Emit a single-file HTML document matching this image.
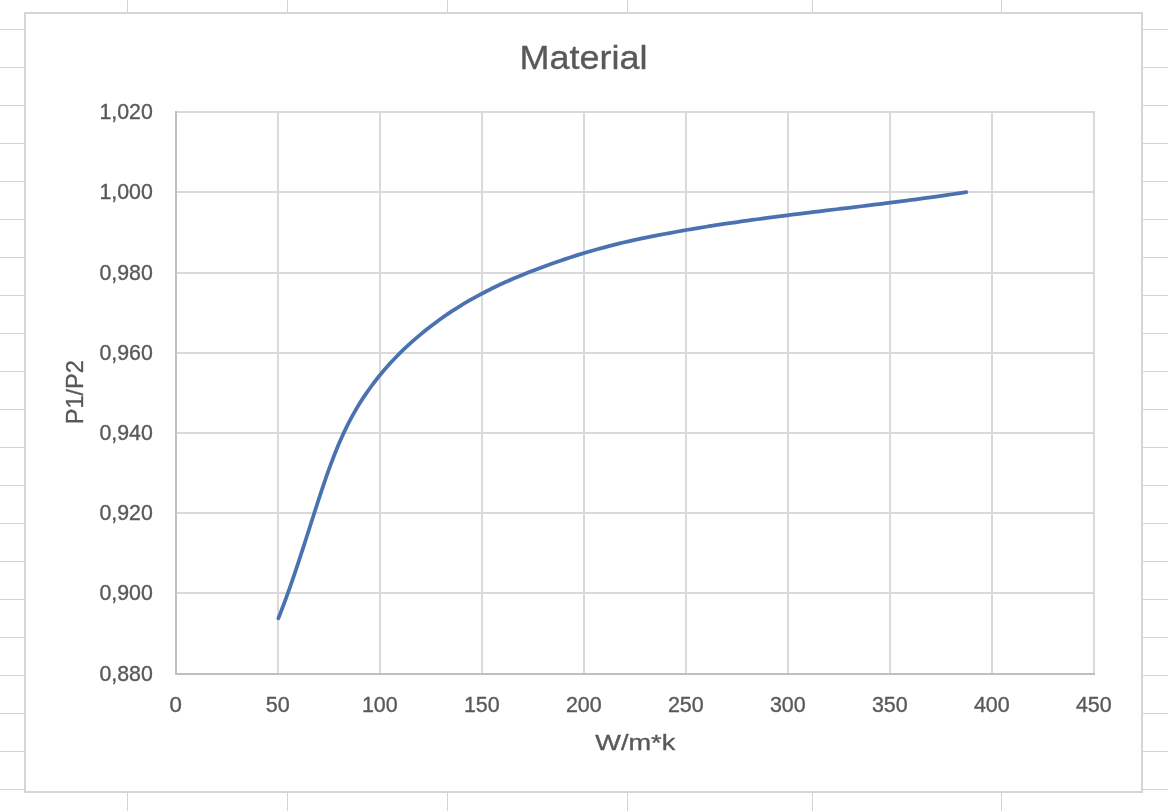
<!DOCTYPE html>
<html><head><meta charset="utf-8"><title>Material</title>
<style>html,body{margin:0;padding:0;background:#fff;overflow:hidden}svg{display:block;will-change:transform}text{font-family:"Liberation Sans",sans-serif;fill:#595959;stroke:#595959;stroke-width:0.35px;stroke-linejoin:round}</style></head><body>
<svg width="1168" height="811" viewBox="0 0 1168 811">
<rect width="1168" height="811" fill="#fff"/>
<g fill="#d4d4d4" shape-rendering="crispEdges">
<rect x="0" y="29" width="1168" height="1"/>
<rect x="0" y="67" width="1168" height="1"/>
<rect x="0" y="105" width="1168" height="1"/>
<rect x="0" y="143" width="1168" height="1"/>
<rect x="0" y="181" width="1168" height="1"/>
<rect x="0" y="219" width="1168" height="1"/>
<rect x="0" y="257" width="1168" height="1"/>
<rect x="0" y="295" width="1168" height="1"/>
<rect x="0" y="333" width="1168" height="1"/>
<rect x="0" y="371" width="1168" height="1"/>
<rect x="0" y="409" width="1168" height="1"/>
<rect x="0" y="447" width="1168" height="1"/>
<rect x="0" y="485" width="1168" height="1"/>
<rect x="0" y="523" width="1168" height="1"/>
<rect x="0" y="561" width="1168" height="1"/>
<rect x="0" y="599" width="1168" height="1"/>
<rect x="0" y="637" width="1168" height="1"/>
<rect x="0" y="675" width="1168" height="1"/>
<rect x="0" y="713" width="1168" height="1"/>
<rect x="0" y="751" width="1168" height="1"/>
<rect x="0" y="789" width="1168" height="1"/>
<rect x="127" y="0" width="1" height="811"/>
<rect x="287" y="0" width="1" height="811"/>
<rect x="447" y="0" width="1" height="811"/>
<rect x="627" y="0" width="1" height="811"/>
<rect x="812" y="0" width="1" height="811"/>
<rect x="1001" y="0" width="1" height="811"/>
</g>
<rect x="25" y="13" width="1117" height="779" fill="#fff" stroke="#d5d5d5" stroke-width="2" shape-rendering="crispEdges"/>
<g stroke="#d9d9d9" stroke-width="2" fill="none">
<line x1="278.00" y1="111.00" x2="278.00" y2="674.00"/>
<line x1="380.00" y1="111.00" x2="380.00" y2="674.00"/>
<line x1="482.00" y1="111.00" x2="482.00" y2="674.00"/>
<line x1="584.00" y1="111.00" x2="584.00" y2="674.00"/>
<line x1="686.00" y1="111.00" x2="686.00" y2="674.00"/>
<line x1="788.00" y1="111.00" x2="788.00" y2="674.00"/>
<line x1="890.00" y1="111.00" x2="890.00" y2="674.00"/>
<line x1="992.00" y1="111.00" x2="992.00" y2="674.00"/>
<line x1="1094.00" y1="111.00" x2="1094.00" y2="674.00"/>
<line x1="176.00" y1="112.00" x2="1095.00" y2="112.00"/>
<line x1="176.00" y1="192.00" x2="1095.00" y2="192.00"/>
<line x1="176.00" y1="273.00" x2="1095.00" y2="273.00"/>
<line x1="176.00" y1="353.00" x2="1095.00" y2="353.00"/>
<line x1="176.00" y1="433.00" x2="1095.00" y2="433.00"/>
<line x1="176.00" y1="513.00" x2="1095.00" y2="513.00"/>
<line x1="176.00" y1="593.00" x2="1095.00" y2="593.00"/>
</g>
<g stroke="#bfbfbf" stroke-width="2" fill="none">
<line x1="176.00" y1="111.00" x2="176.00" y2="675.00"/>
<line x1="175.00" y1="674.00" x2="1095.00" y2="674.00"/>
</g>
<path d="M278.39 618.30 C279.01 616.72 280.87 611.96 282.07 608.79 C283.28 605.63 284.46 602.46 285.62 599.30 C286.78 596.14 287.91 592.98 289.04 589.82 C290.16 586.66 291.26 583.50 292.35 580.35 C293.44 577.19 294.51 574.03 295.57 570.88 C296.63 567.72 297.68 564.57 298.72 561.41 C299.76 558.25 300.79 555.10 301.82 551.94 C302.85 548.78 303.86 545.62 304.88 542.46 C305.89 539.30 306.90 536.14 307.91 532.98 C308.93 529.81 309.93 526.65 310.95 523.48 C311.96 520.31 312.97 517.14 313.99 513.96 C315.01 510.79 316.04 507.61 317.07 504.43 C318.10 501.24 319.14 498.06 320.19 494.87 C321.25 491.68 322.31 488.48 323.39 485.29 C324.47 482.11 325.56 478.91 326.68 475.73 C327.80 472.55 328.93 469.37 330.10 466.20 C331.27 463.03 332.46 459.87 333.68 456.73 C334.91 453.59 336.16 450.46 337.46 447.34 C338.75 444.23 340.07 441.14 341.45 438.07 C342.82 435.00 344.23 431.94 345.69 428.92 C347.15 425.90 348.65 422.90 350.21 419.94 C351.77 416.97 353.38 414.04 355.04 411.14 C356.71 408.24 358.43 405.37 360.21 402.54 C361.99 399.71 363.82 396.92 365.70 394.16 C367.59 391.40 369.53 388.68 371.51 385.99 C373.50 383.30 375.53 380.65 377.62 378.04 C379.70 375.43 381.83 372.85 384.01 370.31 C386.19 367.77 388.41 365.27 390.67 362.81 C392.94 360.34 395.25 357.92 397.59 355.53 C399.94 353.14 402.33 350.79 404.75 348.48 C407.18 346.17 409.64 343.90 412.14 341.67 C414.64 339.43 417.17 337.24 419.74 335.09 C422.31 332.93 424.91 330.82 427.54 328.75 C430.17 326.67 432.84 324.64 435.53 322.65 C438.22 320.66 440.94 318.70 443.68 316.79 C446.42 314.88 449.20 313.01 451.99 311.18 C454.78 309.36 457.60 307.57 460.44 305.83 C463.28 304.08 466.14 302.38 469.02 300.72 C471.90 299.06 474.80 297.44 477.72 295.86 C480.64 294.27 483.58 292.73 486.54 291.22 C489.49 289.71 492.47 288.23 495.46 286.79 C498.45 285.35 501.46 283.95 504.48 282.57 C507.51 281.19 510.55 279.85 513.61 278.53 C516.66 277.21 519.73 275.93 522.82 274.67 C525.91 273.41 529.01 272.17 532.12 270.96 C535.23 269.75 538.36 268.57 541.50 267.40 C544.64 266.24 547.79 265.10 550.95 263.97 C554.12 262.85 557.29 261.75 560.47 260.66 C563.66 259.58 566.86 258.51 570.06 257.47 C573.26 256.42 576.48 255.39 579.70 254.39 C582.92 253.39 586.15 252.41 589.39 251.46 C592.63 250.51 595.88 249.59 599.13 248.69 C602.38 247.79 605.64 246.93 608.91 246.08 C612.17 245.24 615.44 244.43 618.72 243.64 C621.99 242.85 625.28 242.08 628.56 241.34 C631.84 240.59 635.13 239.87 638.42 239.17 C641.71 238.47 645.00 237.78 648.30 237.12 C651.59 236.45 654.89 235.80 658.19 235.16 C661.48 234.52 664.78 233.90 668.08 233.29 C671.38 232.68 674.68 232.08 677.98 231.49 C681.28 230.91 684.57 230.33 687.87 229.77 C691.17 229.20 694.47 228.65 697.78 228.10 C701.08 227.56 704.38 227.03 707.68 226.50 C710.98 225.98 714.28 225.46 717.58 224.96 C720.89 224.45 724.19 223.95 727.49 223.46 C730.79 222.97 734.10 222.49 737.40 222.02 C740.71 221.54 744.01 221.08 747.32 220.62 C750.62 220.16 753.93 219.70 757.23 219.25 C760.54 218.81 763.84 218.37 767.15 217.93 C770.46 217.49 773.77 217.06 777.07 216.63 C780.38 216.20 783.69 215.78 787.00 215.36 C790.31 214.94 793.62 214.53 796.93 214.11 C800.24 213.70 803.55 213.29 806.86 212.88 C810.17 212.48 813.48 212.07 816.80 211.67 C820.11 211.26 823.42 210.86 826.74 210.46 C830.05 210.06 833.36 209.66 836.68 209.26 C839.99 208.85 843.31 208.45 846.62 208.05 C849.94 207.65 853.26 207.25 856.57 206.85 C859.89 206.44 863.21 206.04 866.53 205.63 C869.85 205.23 873.17 204.82 876.49 204.41 C879.81 203.99 883.13 203.58 886.45 203.16 C889.77 202.74 893.09 202.32 896.42 201.90 C899.74 201.47 903.06 201.04 906.39 200.61 C909.71 200.17 913.04 199.73 916.36 199.29 C919.69 198.84 923.01 198.39 926.34 197.93 C929.67 197.48 933.00 197.01 936.32 196.54 C939.65 196.07 942.98 195.59 946.31 195.11 C949.64 194.62 952.98 194.13 956.31 193.62 C959.64 193.12 964.64 192.35 966.31 192.09" fill="none" stroke="#4a72b0" stroke-width="3.75" stroke-linecap="round" stroke-linejoin="round"/>
<text x="583.6" y="68.6" font-size="33.3" text-anchor="middle" textLength="128" lengthAdjust="spacingAndGlyphs">Material</text>
<text x="152.8" y="118.90" font-size="21.2" text-anchor="end" textLength="53.4" lengthAdjust="spacingAndGlyphs">1,020</text>
<text x="152.8" y="198.90" font-size="21.2" text-anchor="end" textLength="53.4" lengthAdjust="spacingAndGlyphs">1,000</text>
<text x="152.8" y="279.90" font-size="21.2" text-anchor="end" textLength="53.4" lengthAdjust="spacingAndGlyphs">0,980</text>
<text x="152.8" y="359.90" font-size="21.2" text-anchor="end" textLength="53.4" lengthAdjust="spacingAndGlyphs">0,960</text>
<text x="152.8" y="439.90" font-size="21.2" text-anchor="end" textLength="53.4" lengthAdjust="spacingAndGlyphs">0,940</text>
<text x="152.8" y="519.90" font-size="21.2" text-anchor="end" textLength="53.4" lengthAdjust="spacingAndGlyphs">0,920</text>
<text x="152.8" y="599.90" font-size="21.2" text-anchor="end" textLength="53.4" lengthAdjust="spacingAndGlyphs">0,900</text>
<text x="152.8" y="680.90" font-size="21.2" text-anchor="end" textLength="53.4" lengthAdjust="spacingAndGlyphs">0,880</text>
<text x="175.80" y="711.7" font-size="21.2" text-anchor="middle" textLength="12.4" lengthAdjust="spacingAndGlyphs">0</text>
<text x="277.80" y="711.7" font-size="21.2" text-anchor="middle" textLength="24.0" lengthAdjust="spacingAndGlyphs">50</text>
<text x="379.80" y="711.7" font-size="21.2" text-anchor="middle" textLength="35.8" lengthAdjust="spacingAndGlyphs">100</text>
<text x="481.80" y="711.7" font-size="21.2" text-anchor="middle" textLength="35.8" lengthAdjust="spacingAndGlyphs">150</text>
<text x="583.80" y="711.7" font-size="21.2" text-anchor="middle" textLength="35.8" lengthAdjust="spacingAndGlyphs">200</text>
<text x="685.80" y="711.7" font-size="21.2" text-anchor="middle" textLength="35.8" lengthAdjust="spacingAndGlyphs">250</text>
<text x="787.80" y="711.7" font-size="21.2" text-anchor="middle" textLength="35.8" lengthAdjust="spacingAndGlyphs">300</text>
<text x="889.80" y="711.7" font-size="21.2" text-anchor="middle" textLength="35.8" lengthAdjust="spacingAndGlyphs">350</text>
<text x="991.80" y="711.7" font-size="21.2" text-anchor="middle" textLength="35.8" lengthAdjust="spacingAndGlyphs">400</text>
<text x="1093.80" y="711.7" font-size="21.2" text-anchor="middle" textLength="35.8" lengthAdjust="spacingAndGlyphs">450</text>
<text x="635.3" y="750.4" font-size="21.6" text-anchor="middle" textLength="80" lengthAdjust="spacingAndGlyphs">W/m*k</text>
<text transform="translate(82.9 392.2) rotate(-90)" font-size="23.2" text-anchor="middle" textLength="64.3" lengthAdjust="spacingAndGlyphs">P1/P2</text>
</svg></body></html>
